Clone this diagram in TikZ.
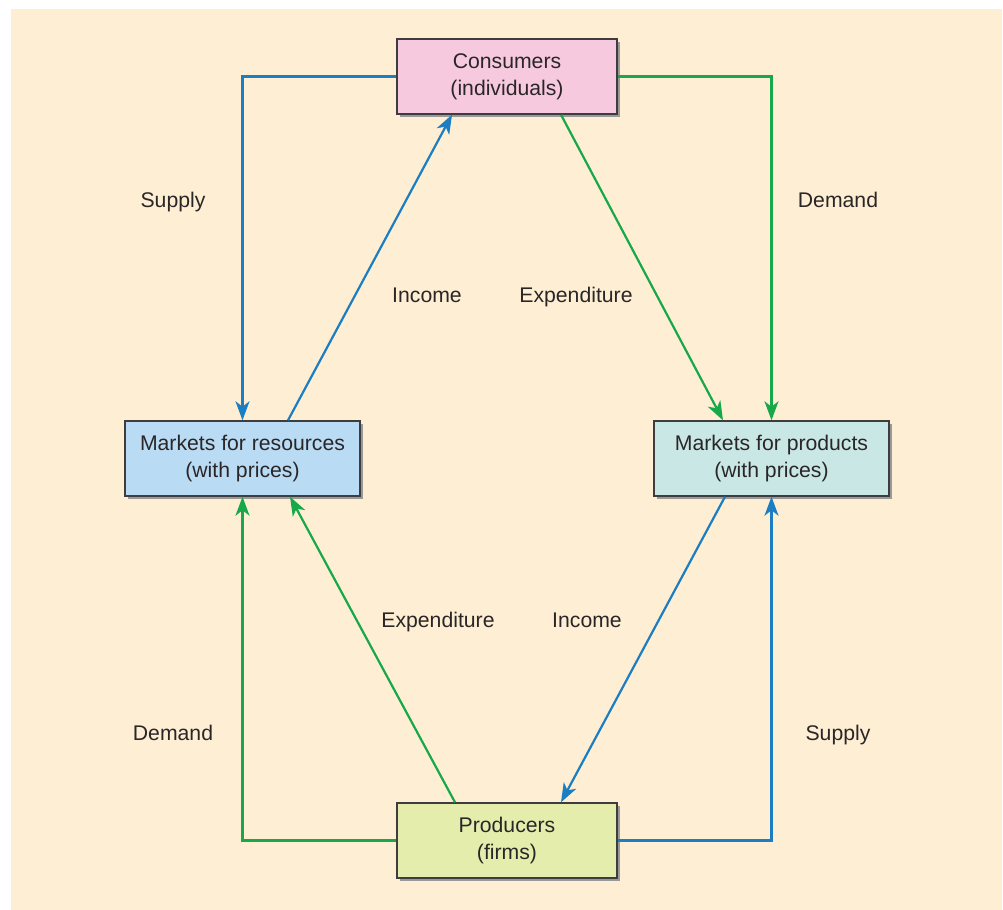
\documentclass[tikz,border=0pt]{standalone}
\usepackage{fontspec}
\setmainfont{Liberation Sans}
\usetikzlibrary{arrows.meta,shadows}
\definecolor{bgc}{HTML}{FEEED3}
\definecolor{pinkc}{HTML}{F7C9DF}
\definecolor{bluec}{HTML}{B9DBF4}
\definecolor{tealc}{HTML}{C9E8E5}
\definecolor{limec}{HTML}{E5EDAD}
\definecolor{lblue}{HTML}{1B7DC2}
\definecolor{lgreen}{HTML}{17A84A}
\definecolor{txt}{HTML}{2A2627}
\tikzset{
  box/.style={draw=txt!90, line width=0.7pt, minimum height=37.5pt, align=center,
    font=\fontsize{10.6}{13.5}\selectfont, text=txt,
    drop shadow={shadow xshift=1.6pt, shadow yshift=-1.6pt, fill=black!40, opacity=1}},
  flow/.style={line width=1.1pt, -{Stealth[length=9.5pt,width=7pt,inset=2.7pt]}},
  lbl/.style={font=\fontsize{10.6}{13}\selectfont, text=txt, text height=7.7pt, text depth=0pt},
}
\begin{document}
\begin{tikzpicture}[x=0.5pt,y=-0.5pt]
\fill[white] (0,0) rectangle (1003,910);
\fill[bgc] (11,9) rectangle (1002,910);
\useasboundingbox (0,0) rectangle (1003,910);
\node[box, fill=pinkc, minimum width=110pt] (cons) at (507,76.5) {Consumers\\(individuals)};
\node[box, fill=bluec, minimum width=117.5pt] (res) at (242.5,458.5) {Markets for resources\\(with prices)};
\node[box, fill=tealc, minimum width=117.5pt] (prod) at (771.5,458.5) {Markets for products\\(with prices)};
\node[box, fill=limec, minimum width=110pt] (firm) at (507,840.5) {Producers\\(firms)};
% top half
\draw[flow, lblue] (cons.west) -| (res.north);
\draw[flow, lblue] ([xshift=22.75pt]res.north) -- ([xshift=-27.5pt]cons.south);
\draw[flow, lgreen] ([xshift=27pt]cons.south) -- ([xshift=-24.25pt]prod.north);
\draw[flow, lgreen] (cons.east) -| (prod.north);
% bottom half
\draw[flow, lgreen] (firm.west) -| (res.south);
\draw[flow, lgreen] ([xshift=-26pt]firm.north) -- ([xshift=23.75pt]res.south);
\draw[flow, lblue] ([xshift=-23.25pt]prod.south) -- ([xshift=27pt]firm.north);
\draw[flow, lblue] (firm.east) -| (prod.south);
% labels
\node[lbl] (l1) at (173,200) {Supply};
\node[lbl] (l2) at (838,200) {Demand};
\node[lbl] (l3) at (427,295) {Income};
\node[lbl] (l4) at (576,295) {Expenditure};
\node[lbl] (l5) at (438,620) {Expenditure};
\node[lbl] (l6) at (587,620) {Income};
\node[lbl] (l7) at (173,733) {Demand};
\node[lbl] (l8) at (838,733) {Supply};
\end{tikzpicture}
\end{document}
